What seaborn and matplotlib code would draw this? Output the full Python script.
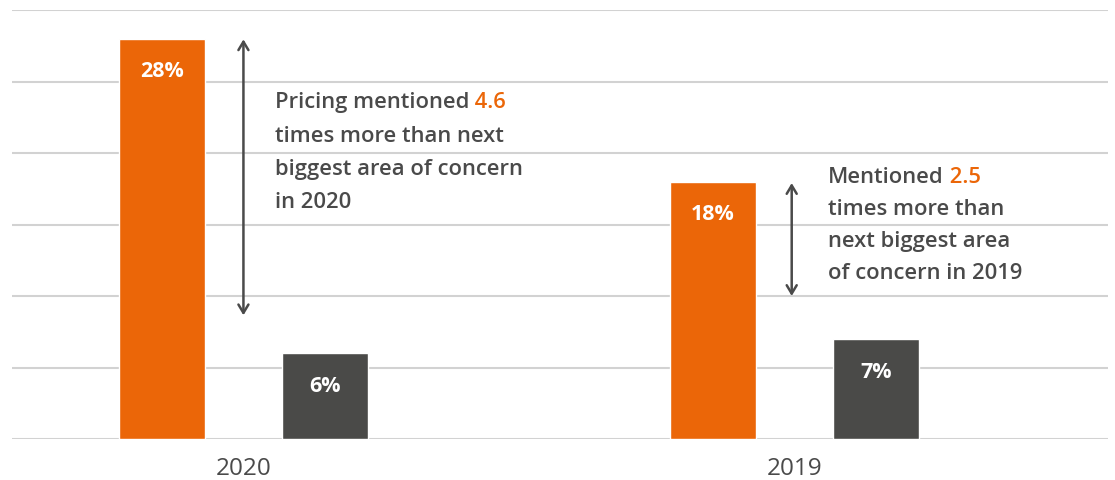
import matplotlib
matplotlib.use("Agg")
import matplotlib.pyplot as plt
import seaborn as sns
import pandas as pd

# Share of mentions per year
years = ["2020", "2019"]
pricing = [28, 18]
next_biggest = [6, 7]
series_names = ["Pricing", "Next biggest area of concern"]
multipliers = ["4.6", "2.5"]

ORANGE = "#EB6608"
DARK = "#4A4A48"
TEXT = "#4A4A4A"
GRID = "#D2D2D2"

df = pd.DataFrame({
    "year": years * 2,
    "series": [series_names[0]] * len(years) + [series_names[1]] * len(years),
    "share": pricing + next_biggest,
})

sns.set_theme(style="white")
plt.rcParams["font.family"] = ["Open Sans", "DejaVu Sans"]

fig = plt.figure(figsize=(11.15, 4.81), dpi=100)
ax = fig.add_axes([12 / 1115, 41 / 481, 1096 / 1115, 429 / 481])

sns.barplot(data=df, x="year", y="share", hue="series", order=years,
            hue_order=series_names, palette=[ORANGE, DARK],
            width=0.592, gap=0.47, saturation=1, legend=False, ax=ax,
            zorder=3)

ax.set_xlim(-0.42, 1.569)
ax.set_ylim(0, 30)
ax.set_yticks(range(0, 31, 5))
ax.set_yticklabels([])
ax.yaxis.grid(True, color=GRID, linewidth=1.5, zorder=0)
ax.set_axisbelow(True)
for side in ["left", "right", "top", "bottom"]:
    ax.spines[side].set_visible(False)
ax.set_xlabel("")
ax.set_ylabel("")
ax.tick_params(axis="x", length=0, pad=12, labelsize=17.5, labelcolor=TEXT)
ax.tick_params(axis="y", length=0)

# Value labels inside the bar tops
for container in ax.containers:
    for bar in container:
        h = bar.get_height()
        ax.text(bar.get_x() + bar.get_width() / 2, h - 2.25, f"{h:.0f}%",
                ha="center", va="center", color="white", fontsize=15.5,
                fontweight="bold", zorder=4)

# Double-headed arrows spanning the gap
arrow_kw = dict(arrowstyle="<->,head_length=0.5,head_width=0.3",
                color=TEXT, lw=1.8, shrinkA=0, shrinkB=0)
ax.annotate("", xy=(0.0, 8.65), xytext=(0.0, 27.95), arrowprops=arrow_kw)
ax.annotate("", xy=(0.995, 10.0), xytext=(0.995, 17.9), arrowprops=arrow_kw)

# Callout texts with highlighted multipliers
callouts = [
    (0.057, 23.57, 2.33, ["Pricing mentioned", "times more than next",
                          "biggest area of concern", "in 2020"], multipliers[0]),
    (1.061, 18.39, 2.26, ["Mentioned", "times more than",
                          "next biggest area", "of concern in 2019"], multipliers[1]),
]
FS = 15.8
txt_kw = dict(fontsize=FS, fontweight="semibold", va="center", ha="left")
for x0, y0, step, lines, mult in callouts:
    for i, line in enumerate(lines):
        t = ax.text(x0, y0 - i * step, line, color=TEXT, **txt_kw)
        if i == 0:
            ax.annotate(" " + mult, xy=(1, 0.5), xycoords=t, va="center",
                        ha="left", color=ORANGE, fontsize=FS,
                        fontweight="semibold")

fig.savefig("out.png", dpi=100)
